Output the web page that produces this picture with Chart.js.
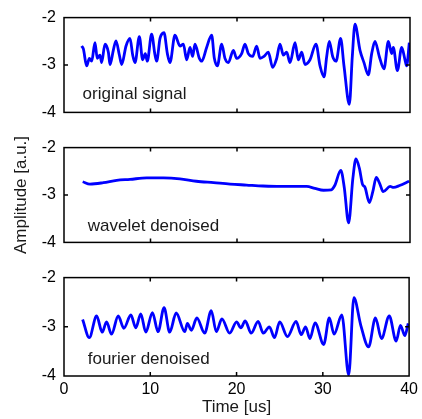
<!DOCTYPE html>
<html>
<head>
<meta charset="utf-8">
<script src="https://cdn.jsdelivr.net/npm/chart.js@4.4.1/dist/chart.umd.min.js"></script>
<style>
  html, body { margin: 0; padding: 0; background: #fff; }
  #wrap { position: relative; width: 422px; height: 419px; }
  .panel { position: absolute; left: 0; }
</style>
</head>
<body>
<div id="wrap">
  <canvas id="c1" class="panel" width="422" height="130" style="top:0"></canvas>
  <canvas id="c2" class="panel" width="422" height="130" style="top:130px"></canvas>
  <canvas id="c3" class="panel" width="422" height="159" style="top:260px"></canvas>
</div>
<script>
// time axis [us] and amplitudes [a.u.]
const origTime = [2.04, 2.24, 2.62, 2.93, 3.20, 3.58, 3.85, 4.16, 4.35, 4.74, 5.13, 5.32, 5.70, 6.01, 6.40, 6.67,
  7.17, 7.63, 7.94, 8.21, 8.71, 9.09, 9.40, 9.63, 10.13, 10.52, 10.71, 11.10, 11.56, 11.95, 12.25, 12.83,
  13.41, 13.80, 14.18, 14.57, 14.87, 15.14, 15.65, 15.92, 16.49, 17.07, 17.38, 17.73, 18.23, 18.61, 19.00,
  19.58, 19.96, 20.54, 20.92, 21.31, 21.81, 22.27, 22.66, 23.12, 23.62, 24.12, 24.59, 24.97, 25.36, 25.74,
  26.13, 26.71, 27.09, 27.48, 27.86, 28.44, 29.13, 29.60, 30.06, 30.37, 30.67, 31.06, 31.45, 31.98, 32.37,
  32.99, 33.33, 33.64, 34.22, 34.68, 35.18, 35.57, 35.95, 36.45, 36.99, 37.50, 37.88, 38.07, 38.54, 39.04,
  39.42, 39.61, 39.92];
const origAmp = [-2.60, -2.66, -3.02, -2.86, -2.92, -2.53, -2.86, -2.79, -2.95, -2.56, -2.73, -2.99, -2.69, -2.49, -2.79, -2.99,
  -2.60, -2.44, -2.79, -2.95, -2.40, -2.89, -2.76, -2.92, -2.35, -2.79, -2.92, -2.44, -2.32, -2.76, -2.95, -2.37,
  -2.60, -2.56, -2.89, -2.63, -2.82, -2.56, -2.86, -2.92, -2.63, -2.37, -2.86, -3.02, -2.56, -2.86, -2.95,
  -2.69, -2.86, -2.76, -2.56, -2.76, -2.82, -2.60, -2.86, -2.82, -2.73, -3.05, -2.86, -2.56, -2.79, -2.73,
  -2.95, -2.53, -2.89, -2.73, -2.99, -2.89, -2.56, -3.02, -3.25, -2.82, -2.50, -2.82, -2.92, -2.44, -3.02,
  -3.83, -2.82, -2.14, -2.69, -2.95, -3.21, -2.76, -2.50, -2.82, -3.08, -2.50, -2.76, -2.63, -3.12, -2.63,
  -2.89, -3.02, -2.53];

const waveTime = [2.16, 3.0, 4.55, 6.09, 7.63, 9.56, 11.5, 13.4, 15.3, 17.3, 19.2, 21.1, 23.0, 25.0, 26.5, 28.05,
  29.0, 30.0, 30.9, 31.3, 32.0, 32.4, 32.9, 33.4, 33.75, 34.15, 34.5, 34.8, 35.3, 35.7, 36.1, 36.5, 36.9,
  37.7, 38.1, 38.8, 39.9];
const waveAmp = [-2.72, -2.77, -2.74, -2.69, -2.67, -2.64, -2.64, -2.66, -2.71, -2.74, -2.77, -2.79, -2.81, -2.82, -2.82, -2.82,
  -2.86, -2.90, -2.89, -2.80, -2.48, -2.84, -3.59, -2.64, -2.24, -2.44, -2.77, -2.84, -3.16, -2.93, -2.63, -2.76, -2.93,
  -2.82, -2.84, -2.80, -2.71];

const fourTime = [2.16, 2.93, 3.78, 4.43, 4.93, 5.51, 6.28, 6.94, 7.75, 8.32, 8.90, 9.48, 10.25, 10.90, 11.60, 12.25,
  13.00, 14.00, 14.30, 14.76, 15.40, 16.30, 17.07, 17.65, 18.30, 19.20, 20.00, 20.50, 21.00, 21.70, 22.50,
  23.10, 23.80, 24.40, 25.00, 25.90, 26.90, 27.50, 28.00, 28.50, 29.10, 30.10, 30.75, 31.30, 32.20, 33.00,
  33.60, 34.40, 35.30, 36.10, 36.80, 37.70, 38.50, 39.00, 39.50, 39.90];
const fourAmp = [-2.85, -3.22, -2.78, -3.11, -2.90, -3.15, -2.78, -3.03, -2.76, -3.02, -2.74, -3.11, -2.71, -3.10, -2.61, -3.11,
  -2.72, -3.10, -2.93, -3.07, -2.82, -3.13, -2.67, -3.10, -2.84, -3.13, -2.90, -3.02, -2.88, -3.13, -2.89,
  -3.13, -3.00, -3.22, -2.90, -3.20, -2.89, -3.16, -3.00, -3.24, -2.92, -3.36, -2.82, -3.15, -2.76, -3.98,
  -2.41, -2.97, -3.41, -2.82, -3.24, -2.78, -3.29, -2.97, -3.18, -2.93];

const xTicks = [0, 10, 20, 30, 40];
const yTicks = [-4, -3, -2];
const panelLabels = ['original signal', 'wavelet denoised', 'fourier denoised'];

const LINE_COLOR = '#0000ff';
const FONT_FAMILY = '"Liberation Sans", Arial, Helvetica, sans-serif';

const framePlugin = {
    id: 'panelFrame',
    afterDraw(chart, args, opts) {
        const { ctx, chartArea: a, scales: { x, y } } = chart;
        ctx.save();
        ctx.strokeStyle = '#000';
        ctx.lineWidth = 1.5;
        ctx.strokeRect(a.left, a.top, a.right - a.left, a.bottom - a.top);
        ctx.beginPath();
        xTicks.slice(1, -1).forEach(v => {
            const px = x.getPixelForValue(v);
            ctx.moveTo(px, a.bottom); ctx.lineTo(px, a.bottom - 4);
            ctx.moveTo(px, a.top); ctx.lineTo(px, a.top + 4);
        });
        yTicks.slice(1, -1).forEach(v => {
            const py = y.getPixelForValue(v);
            ctx.moveTo(a.left, py); ctx.lineTo(a.left + 4, py);
            ctx.moveTo(a.right, py); ctx.lineTo(a.right - 4, py);
        });
        ctx.stroke();
        ctx.fillStyle = '#1a1a1a';
        ctx.font = '17px ' + FONT_FAMILY;
        ctx.textBaseline = 'alphabetic';
        ctx.fillText(opts.text, x.getPixelForValue(opts.at[0]), y.getPixelForValue(opts.at[1]));
        ctx.restore();
    }
};

const panelConfig = (times, amps, o) => ({
    type: 'line',
    data: {
        datasets: [{
            data: times.map((t, i) => ({ x: t, y: amps[i] })),
            borderColor: LINE_COLOR,
            borderWidth: o.lineWidth,
            pointRadius: 0,
            cubicInterpolationMode: 'monotone',
            fill: false
        }]
    },
    options: {
        responsive: false,
        animation: false,
        layout: { padding: { top: o.padTop, right: 12, bottom: o.padBottom, left: 0 } },
        plugins: {
            legend: { display: false },
            tooltip: { enabled: false },
            panelFrame: { text: o.label, at: o.labelAt }
        },
        scales: {
            x: {
                type: 'linear', min: 0, max: 40,
                display: o.showX,
                afterBuildTicks: s => { s.ticks = xTicks.map(v => ({ value: v })); },
                afterFit: s => { if (o.showX) s.height = 43; },
                grid: { display: false, drawTicks: false },
                border: { display: false },
                ticks: { color: '#000', padding: 4, maxRotation: 0, font: { size: 16, family: FONT_FAMILY } },
                title: {
                    display: o.showX, text: 'Time [us]', color: '#1a1a1a',
                    padding: { top: 0, bottom: 1 },
                    font: { size: 17, family: FONT_FAMILY }
                }
            },
            y: {
                min: -4, max: -2,
                afterBuildTicks: s => { s.ticks = yTicks.map(v => ({ value: v })); },
                afterFit: s => { s.width = 64; },
                grid: { display: false, drawTicks: false },
                border: { display: false },
                ticks: { color: '#000', padding: 8, font: { size: 16, family: FONT_FAMILY } },
                title: {
                    display: o.showYTitle, text: 'Amplitude [a.u.]', color: '#1a1a1a',
                    padding: { top: 11, bottom: 0 },
                    font: { size: 17, family: FONT_FAMILY }
                }
            }
        }
    },
    plugins: [framePlugin]
});

new Chart(document.getElementById('c1'), panelConfig(origTime, origAmp, {
    lineWidth: 2.8, padTop: 14, padBottom: 14, showX: false, showYTitle: false,
    label: panelLabels[0], labelAt: [2.15, -3.72]
}));
new Chart(document.getElementById('c2'), panelConfig(waveTime, waveAmp, {
    lineWidth: 2.8, padTop: 15, padBottom: 14, showX: false, showYTitle: true,
    label: panelLabels[1], labelAt: [2.75, -3.76]
}));
new Chart(document.getElementById('c3'), panelConfig(fourTime, fourAmp, {
    lineWidth: 2.8, padTop: 14, padBottom: 0, showX: true, showYTitle: false,
    label: panelLabels[2], labelAt: [2.75, -3.765]
}));
</script>
</body>
</html>
